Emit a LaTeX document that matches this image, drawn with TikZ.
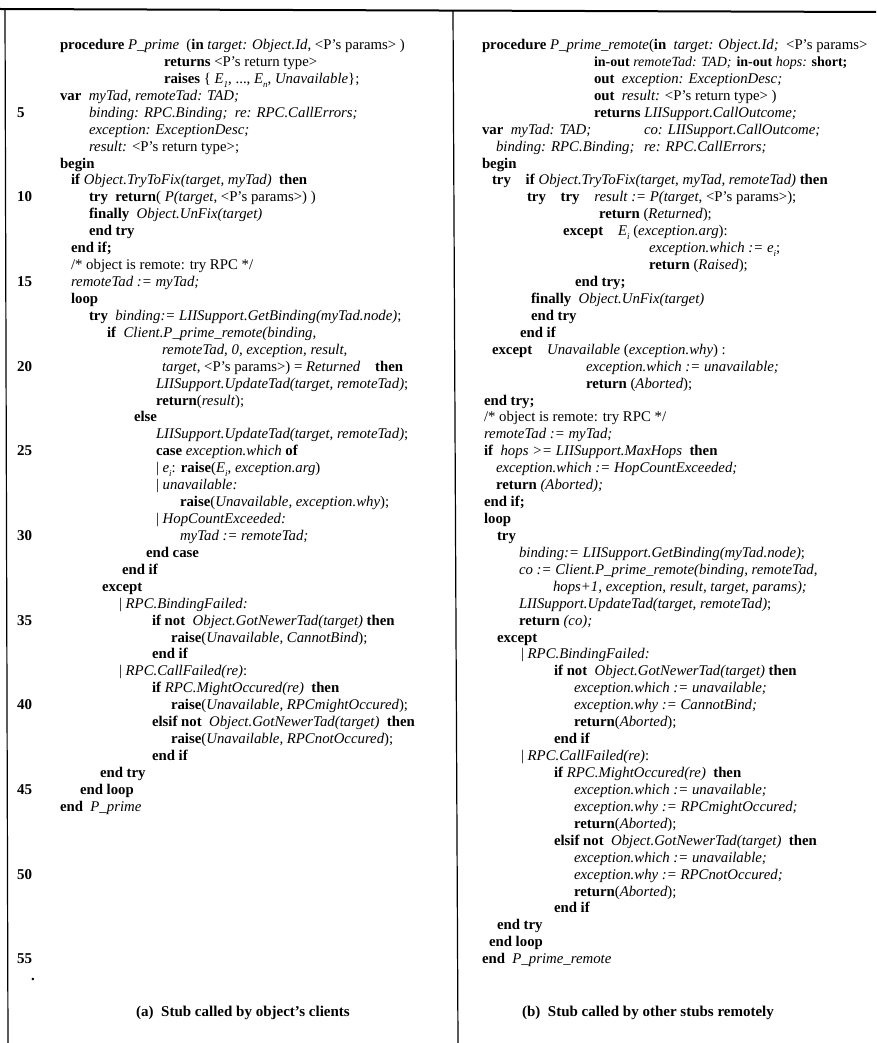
\documentclass[tikz,border=0pt]{standalone}
\usepackage{fontspec}
\setmainfont{Liberation Serif}
\tikzset{
  code/.style = {anchor=base west, inner sep=0pt, outer sep=0pt},
  lnum/.style = {anchor=base west, inner sep=0pt, font=\fontsize{15}{17}\selectfont\bfseries},
  caption/.style = {inner sep=0pt, font=\fontsize{15}{17}\selectfont\bfseries},
  frame/.style = {black, line width=#1},
  frame/.default = 1.2pt
}
\newcommand{\kw}[1]{\textbf{#1}}
\newcommand{\vr}[1]{\textit{#1}}
\newcommand{\lowsub}[1]{\raisebox{-0.55ex}{\fontsize{9}{9}\selectfont\textit{#1}}}

\begin{document}
\begin{tikzpicture}[x=1pt, y=-1pt, font=\fontsize{14.8}{17}\selectfont]
	\def \h{16.93}  % line pitch
	\def \yb{49.5}  % first baseline
	
	\useasboundingbox (0,0) rectangle (876,1043);
	
	% Frame
	\draw[frame=2pt] (0,9) -- (876,12);
	\draw[frame] (5,9) -- (8,1043);
	\draw[frame] (453,11) -- (458,1043);
	
	% Line numbers
	\node[lnum] (n5)  at (17,\yb+4*\h)  {5};
	\node[lnum] (n10) at (17,\yb+9*\h)  {10};
	\node[lnum] (n15) at (17,\yb+14*\h) {15};
	\node[lnum] (n20) at (17,\yb+19*\h) {20};
	\node[lnum] (n25) at (17,\yb+24*\h) {25};
	\node[lnum] (n30) at (17,\yb+29*\h) {30};
	\node[lnum] (n35) at (17,\yb+34*\h) {35};
	\node[lnum] (n40) at (17,\yb+39*\h) {40};
	\node[lnum] (n45) at (17,\yb+44*\h) {45};
	\node[lnum] (n50) at (17,\yb+49*\h) {50};
	\node[lnum] (n55) at (17,\yb+54*\h) {55};
	\node[lnum] (ndot) at (31,\yb+55*\h) {.};
	
	% (a) client stub
	\node[code] (a1)  at (60,\yb+0*\h)  {\kw{procedure} \vr{P\_prime}\enspace(\kw{in} \vr{target: Object.Id}, <P's params> )};
	\node[code] (a2)  at (164,\yb+1*\h) {\kw{returns} <P's return type>};
	\node[code] (a3)  at (164,\yb+2*\h) {\kw{raises} \{ \vr{E}\lowsub{1}, ..., \vr{E}\lowsub{n}, \vr{Unavailable}\};};
	\node[code] (a4)  at (60,\yb+3*\h)  {\kw{var}\enspace\vr{myTad, remoteTad: TAD;}};
	\node[code] (a5)  at (89,\yb+4*\h)  {\vr{binding: RPC.Binding;\enspace re: RPC.CallErrors;}};
	\node[code] (a6)  at (89,\yb+5*\h)  {\vr{exception: ExceptionDesc;}};
	\node[code] (a7)  at (89,\yb+6*\h)  {\vr{result:} <P's return type>;};
	\node[code] (a8)  at (60,\yb+7*\h)  {\kw{begin}};
	\node[code] (a9)  at (71,\yb+8*\h)  {\kw{if} \vr{Object.TryToFix(target, myTad)}\enspace\kw{then}};
	\node[code] (a10) at (89,\yb+9*\h)  {\kw{try}\enspace\kw{return}( \vr{P(target}, <P's params>) )};
	\node[code] (a11) at (89,\yb+10*\h) {\kw{finally}\enspace\vr{Object.UnFix(target)}};
	\node[code] (a12) at (89,\yb+11*\h) {\kw{end try}};
	\node[code] (a13) at (71,\yb+12*\h) {\kw{end if;}};
	\node[code] (a14) at (71,\yb+13*\h) {/* object is remote: try RPC */};
	\node[code] (a15) at (71,\yb+14*\h) {\vr{remoteTad := myTad;}};
	\node[code] (a16) at (71,\yb+15*\h) {\kw{loop}};
	\node[code] (a17) at (89,\yb+16*\h) {\kw{try}\enspace\vr{binding:= LIISupport.GetBinding(myTad.node)};};
	\node[code] (a18) at (107,\yb+17*\h) {\kw{if}\enspace\vr{Client.P\_prime\_remote(binding,}};
	\node[code] (a19) at (162,\yb+18*\h) {\vr{remoteTad, 0, exception, result,}};
	\node[code] (a20) at (162,\yb+19*\h) {\vr{target}, <P's params>) = \vr{Returned}\quad\kw{then}};
	\node[code] (a21) at (156,\yb+20*\h) {\vr{LIISupport.UpdateTad(target, remoteTad)};};
	\node[code] (a22) at (156,\yb+21*\h) {\kw{return}(\vr{result});};
	\node[code] (a23) at (134,\yb+22*\h) {\kw{else}};
	\node[code] (a24) at (156,\yb+23*\h) {\vr{LIISupport.UpdateTad(target, remoteTad)};};
	\node[code] (a25) at (156,\yb+24*\h) {\kw{case} \vr{exception.which} \kw{of}};
	\node[code] (a26) at (156,\yb+25*\h) {| \vr{e}\lowsub{i}: \kw{raise}(\vr{E}\lowsub{i}, \vr{exception.arg})};
	\node[code] (a27) at (156,\yb+26*\h) {| \vr{unavailable:}};
	\node[code] (a28) at (180,\yb+27*\h) {\kw{raise}(\vr{Unavailable, exception.why});};
	\node[code] (a29) at (156,\yb+28*\h) {| \vr{HopCountExceeded:}};
	\node[code] (a30) at (180,\yb+29*\h) {\vr{myTad := remoteTad;}};
	\node[code] (a31) at (146,\yb+30*\h) {\kw{end case}};
	\node[code] (a32) at (122,\yb+31*\h) {\kw{end if}};
	\node[code] (a33) at (102,\yb+32*\h) {\kw{except}};
	\node[code] (a34) at (119,\yb+33*\h) {| \vr{RPC.BindingFailed:}};
	\node[code] (a35) at (152,\yb+34*\h) {\kw{if not}\enspace\vr{Object.GotNewerTad(target)} \kw{then}};
	\node[code] (a36) at (171,\yb+35*\h) {\kw{raise}(\vr{Unavailable, CannotBind});};
	\node[code] (a37) at (152,\yb+36*\h) {\kw{end if}};
	\node[code] (a38) at (119,\yb+37*\h) {| \vr{RPC.CallFailed(re)}:};
	\node[code] (a39) at (152,\yb+38*\h) {\kw{if} \vr{RPC.MightOccured(re)}\enspace\kw{then}};
	\node[code] (a40) at (171,\yb+39*\h) {\kw{raise}(\vr{Unavailable, RPCmightOccured});};
	\node[code] (a41) at (152,\yb+40*\h) {\kw{elsif not}\enspace\vr{Object.GotNewerTad(target)}\enspace\kw{then}};
	\node[code] (a42) at (171,\yb+41*\h) {\kw{raise}(\vr{Unavailable, RPCnotOccured});};
	\node[code] (a43) at (152,\yb+42*\h) {\kw{end if}};
	\node[code] (a44) at (100,\yb+43*\h) {\kw{end try}};
	\node[code] (a45) at (80,\yb+44*\h)  {\kw{end loop}};
	\node[code] (a46) at (60,\yb+45*\h)  {\kw{end}\enspace\vr{P\_prime}};
	
	% (b) remote stub
	\node[code] (b1)  at (482,\yb+0*\h)  {\kw{procedure} \vr{P\_prime\_remote}(\kw{in}\enspace\vr{target: Object.Id;}\enspace<P's params>};
	\node[code, font=\fontsize{14}{17}\selectfont] (b2) at (594,\yb+1*\h) {\kw{in-out} \vr{remoteTad: TAD;}};
	\node[code, font=\fontsize{14}{17}\selectfont, xshift=5pt] (b2h) at (b2.base east) {\kw{in-out} \vr{hops:} \kw{short;}};
	\node[code] (b3)  at (594,\yb+2*\h)  {\kw{out}\enspace\vr{exception: ExceptionDesc;}};
	\node[code] (b4)  at (594,\yb+3*\h)  {\kw{out}\enspace\vr{result:} <P's return type> )};
	\node[code] (b5)  at (594,\yb+4*\h)  {\kw{returns} \vr{LIISupport.CallOutcome;}};
	\node[code] (b6)  at (482,\yb+5*\h)  {\kw{var}\enspace\vr{myTad: TAD;}};
	\node[code] (b6co) at (644,\yb+5*\h) {\vr{co: LIISupport.CallOutcome;}};
	\node[code] (b7)  at (496,\yb+6*\h)  {\vr{binding: RPC.Binding;}};
	\node[code] (b7re) at (644,\yb+6*\h) {\vr{re: RPC.CallErrors;}};
	\node[code] (b8)  at (482,\yb+7*\h)  {\kw{begin}};
	\node[code] (b9)  at (492,\yb+8*\h)  {\kw{try}\quad\kw{if} \vr{Object.TryToFix(target, myTad, remoteTad)} \kw{then}};
	\node[code] (b10) at (527,\yb+9*\h)  {\kw{try}\quad\kw{try}\quad\vr{result := P(target}, <P's params>);};
	\node[code] (b11) at (599,\yb+10*\h) {\kw{return} (\vr{Returned});};
	\node[code] (b12) at (563,\yb+11*\h) {\kw{except}\quad\vr{E}\lowsub{i} (\vr{exception.arg}):};
	\node[code] (b13) at (649,\yb+12*\h) {\vr{exception.which := e}\lowsub{i};};
	\node[code] (b14) at (649,\yb+13*\h) {\kw{return} (\vr{Raised});};
	\node[code] (b15) at (575,\yb+14*\h) {\kw{end try;}};
	\node[code] (b16) at (531,\yb+15*\h) {\kw{finally}\enspace\vr{Object.UnFix(target)}};
	\node[code] (b17) at (531,\yb+16*\h) {\kw{end try}};
	\node[code] (b18) at (520,\yb+17*\h) {\kw{end if}};
	\node[code] (b19) at (492,\yb+18*\h) {\kw{except}\quad\vr{Unavailable} (\vr{exception.why}) :};
	\node[code] (b20) at (586,\yb+19*\h) {\vr{exception.which := unavailable;}};
	\node[code] (b21) at (586,\yb+20*\h) {\kw{return} (\vr{Aborted});};
	\node[code] (b22) at (484,\yb+21*\h) {\kw{end try;}};
	\node[code] (b23) at (484,\yb+22*\h) {/* object is remote: try RPC */};
	\node[code] (b24) at (484,\yb+23*\h) {\vr{remoteTad := myTad;}};
	\node[code] (b25) at (484,\yb+24*\h) {\kw{if}\enspace\vr{hops >= LIISupport.MaxHops}\enspace\kw{then}};
	\node[code] (b26) at (496,\yb+25*\h) {\vr{exception.which := HopCountExceeded;}};
	\node[code] (b27) at (496,\yb+26*\h) {\kw{return} \vr{(Aborted);}};
	\node[code] (b28) at (484,\yb+27*\h) {\kw{end if;}};
	\node[code] (b29) at (484,\yb+28*\h) {\kw{loop}};
	\node[code] (b30) at (497,\yb+29*\h) {\kw{try}};
	\node[code] (b31) at (519,\yb+30*\h) {\vr{binding:= LIISupport.GetBinding(myTad.node)};};
	\node[code] (b32) at (519,\yb+31*\h) {\vr{co := Client.P\_prime\_remote(binding, remoteTad,}};
	\node[code] (b33) at (553,\yb+32*\h) {\vr{hops+1, exception, result, target, params);}};
	\node[code] (b34) at (519,\yb+33*\h) {\vr{LIISupport.UpdateTad(target, remoteTad)};};
	\node[code] (b35) at (519,\yb+34*\h) {\kw{return} \vr{(co);}};
	\node[code] (b36) at (497,\yb+35*\h) {\kw{except}};
	\node[code] (b37) at (521,\yb+36*\h) {| \vr{RPC.BindingFailed:}};
	\node[code] (b38) at (554,\yb+37*\h) {\kw{if not}\enspace\vr{Object.GotNewerTad(target)} \kw{then}};
	\node[code] (b39) at (574,\yb+38*\h) {\vr{exception.which := unavailable;}};
	\node[code] (b40) at (574,\yb+39*\h) {\vr{exception.why := CannotBind;}};
	\node[code] (b41) at (574,\yb+40*\h) {\kw{return}(\vr{Aborted});};
	\node[code] (b42) at (554,\yb+41*\h) {\kw{end if}};
	\node[code] (b43) at (521,\yb+42*\h) {| \vr{RPC.CallFailed(re)}:};
	\node[code] (b44) at (554,\yb+43*\h) {\kw{if} \vr{RPC.MightOccured(re)}\enspace\kw{then}};
	\node[code] (b45) at (574,\yb+44*\h) {\vr{exception.which := unavailable;}};
	\node[code] (b46) at (574,\yb+45*\h) {\vr{exception.why := RPCmightOccured;}};
	\node[code] (b47) at (574,\yb+46*\h) {\kw{return}(\vr{Aborted});};
	\node[code] (b48) at (554,\yb+47*\h) {\kw{elsif not}\enspace\vr{Object.GotNewerTad(target)}\enspace\kw{then}};
	\node[code] (b49) at (574,\yb+48*\h) {\vr{exception.which := unavailable;}};
	\node[code] (b50) at (574,\yb+49*\h) {\vr{exception.why := RPCnotOccured;}};
	\node[code] (b51) at (574,\yb+50*\h) {\kw{return}(\vr{Aborted});};
	\node[code] (b52) at (554,\yb+51*\h) {\kw{end if}};
	\node[code] (b53) at (497,\yb+52*\h) {\kw{end try}};
	\node[code] (b54) at (489,\yb+53*\h) {\kw{end loop}};
	\node[code] (b55) at (482,\yb+54*\h) {\kw{end}\enspace\vr{P\_prime\_remote}};
	
	% Captions
	\node[caption] (capa) at (243,1013) {(a)\enspace Stub called by object's clients};
	\node[caption] (capb) at (648,1013) {(b)\enspace Stub called by other stubs remotely};
	
\end{tikzpicture}
\end{document}
